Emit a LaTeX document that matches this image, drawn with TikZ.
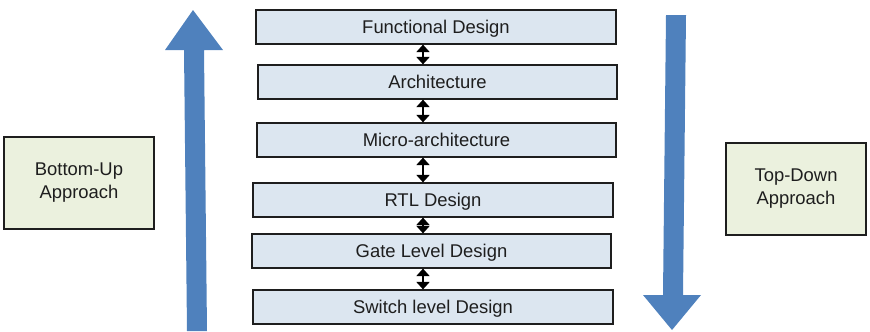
\documentclass[tikz,border=0pt]{standalone}
\usepackage{fontspec}
\setmainfont{Liberation Sans}
\usetikzlibrary{arrows.meta}
\definecolor{levelfill}{HTML}{DCE6F0}
\definecolor{notefill}{HTML}{EBF1DE}
\definecolor{flowblue}{HTML}{4F81BD}
\definecolor{inkgray}{HTML}{1E1E1E}
\begin{document}
\begin{tikzpicture}[x=1bp,y=-1bp,
  level/.style={draw=inkgray,line width=1.2bp,fill=levelfill,inner sep=0pt,
    minimum height=34bp,text height=16bp,text depth=3.5bp,text=inkgray,
    font=\fontsize{18.5}{22}\selectfont},
  note/.style={draw=inkgray,line width=1.1bp,fill=notefill,inner sep=0pt,
    align=center,text=inkgray,font=\fontsize{18.5}{23}\selectfont},
  link/.style={line width=2.3bp,black,{Triangle[width=13bp,length=7.5bp]}-{Triangle[width=13bp,length=7.5bp]}},
  flow/.style={fill=flowblue,draw=none}]
\useasboundingbox (0,0) rectangle (870,331);

% design levels, top to bottom
\node[level,minimum width=360bp] (fd)  at (436,27)   {Functional Design};
\node[level,minimum width=359bp] (ar)  at (437.5,82) {Architecture};
\node[level,minimum width=359bp] (ma)  at (436.5,140){Micro-architecture};
\node[level,minimum width=360bp] (rtl) at (433,200)  {RTL Design};
\node[level,minimum width=359bp] (gl)  at (431.5,251){Gate Level Design};
\node[level,minimum width=360bp] (sl)  at (433,307)  {Switch level Design};

% double-headed links between adjacent levels
\coordinate (lx) at (423,0);
\draw[link] (fd.south -| lx) -- (ar.north -| lx);
\draw[link] (ar.south -| lx) -- (ma.north -| lx);
\draw[link] (ma.south -| lx) -- (rtl.north -| lx);
\draw[link] (rtl.south -| lx) -- (gl.north -| lx);
\draw[link] (gl.south -| lx) -- (sl.north -| lx);

% side notes
\node[note,minimum width=150bp,minimum height=92bp] (bu) at (79,183) {Bottom-Up\\Approach};
\node[note,minimum width=140bp,minimum height=92bp] (td) at (796,189) {Top-Down\\Approach};

% bottom-up flow arrow (pointing up)
\fill[flow] (193,10) -- (223,50) -- (204,50) -- (207,331) -- (187,331)
  -- (184,50) -- (165,50) -- cycle;
% top-down flow arrow (pointing down)
\fill[flow] (666,15) -- (686,15) -- (683,295) -- (701,295) -- (672,330)
  -- (643,295) -- (663,295) -- cycle;
\end{tikzpicture}
\end{document}
